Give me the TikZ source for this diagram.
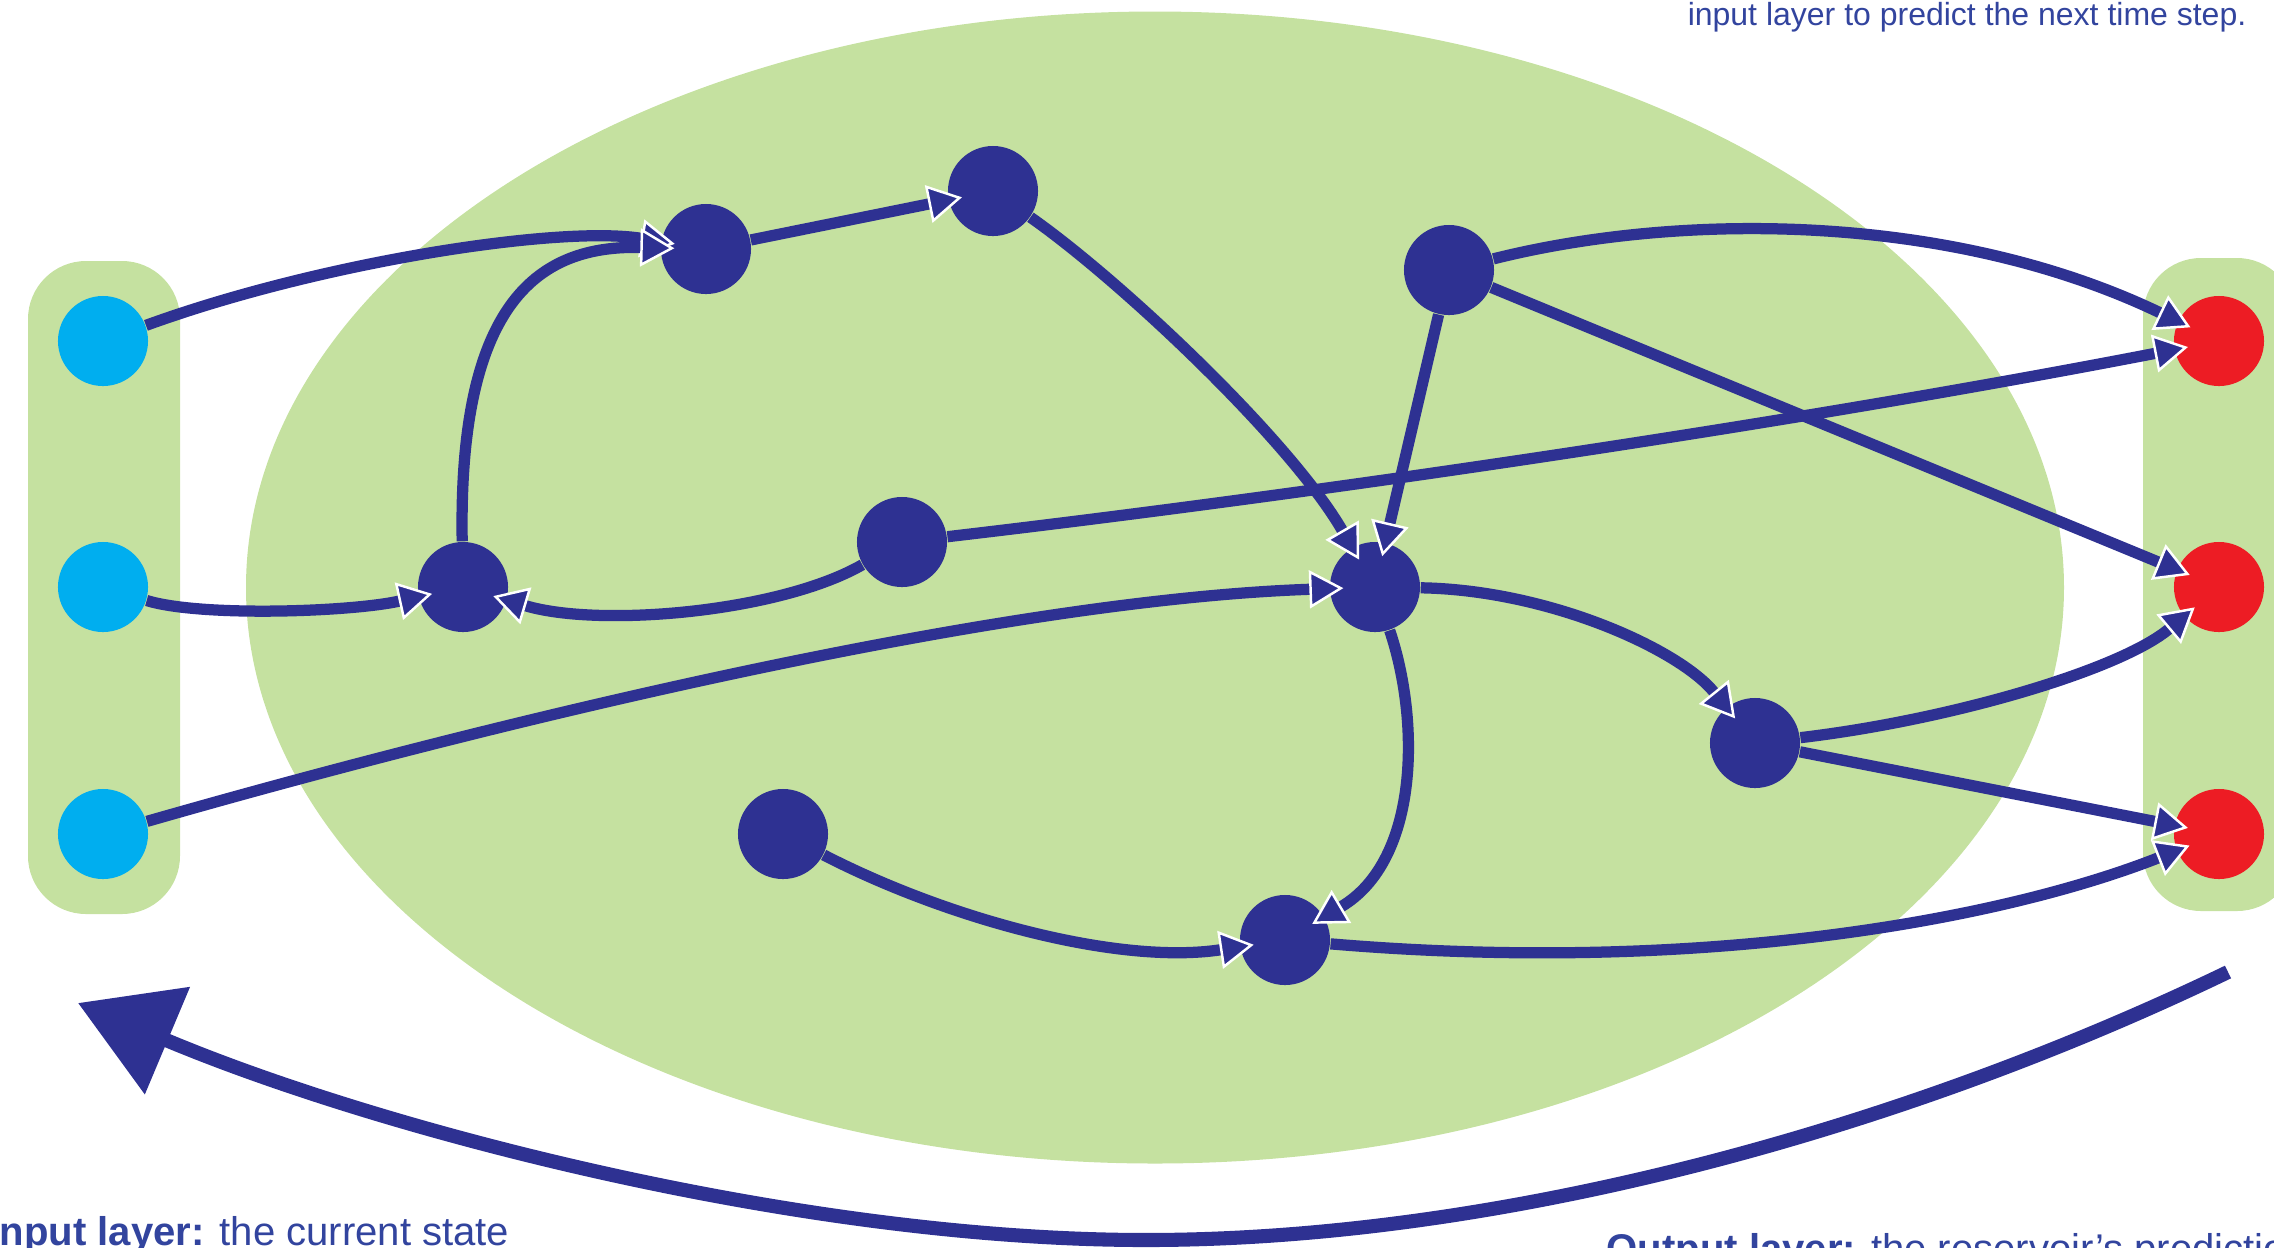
\documentclass[tikz,border=0pt]{standalone}
\usepackage{fontspec}
\setmainfont{Liberation Sans}
\usetikzlibrary{arrows.meta}
\definecolor{dblue}{RGB}{46,49,146}
\definecolor{lgreen}{RGB}{197,225,160}
\definecolor{icyan}{RGB}{0,174,239}
\definecolor{ored}{RGB}{237,28,36}
\definecolor{tblue}{RGB}{50,68,158}
\begin{document}
\begin{tikzpicture}[x=0.01cm,y=-0.01cm,
  neuron/.style={circle, inner sep=0pt, minimum size=0.9cm},
  res/.style={neuron, fill=dblue},
  inp/.style={neuron, fill=icyan},
  outp/.style={neuron, fill=ored},
  link/.style={draw=dblue, line width=3.2pt,
    -{Triangle[length=0.34cm,width=0.38cm,color=white,fill=dblue,line width=0.7pt]},
    shorten >=-4pt},
  feedback/.style={draw=dblue, line width=4pt, -{Triangle[length=0.97cm,width=1.13cm]}},
  lbl/.style={inner sep=0pt, text=tblue},
]
\useasboundingbox (0,0) rectangle (2274,1247);
\clip (0,0) rectangle (2274,1247);

% background shapes
\fill[lgreen] (1155,587.5) ellipse [x radius=909, y radius=576];
\fill[lgreen, rounded corners=0.58cm] (28,261) rectangle (180,914);
\fill[lgreen, rounded corners=0.58cm] (2143,258) rectangle (2295,911);

% input nodes
\node[inp] (In1) at (103,341) {};
\node[inp] (In2) at (103,587) {};
\node[inp] (In3) at (103,834) {};
% output nodes
\node[outp] (Out1) at (2219,341) {};
\node[outp] (Out2) at (2219,587) {};
\node[outp] (Out3) at (2219,834) {};
% reservoir nodes
\node[res] (R1) at (706,249) {};
\node[res] (R2) at (993,191) {};
\node[res] (R3) at (1449,270) {};
\node[res] (R4) at (463,587) {};
\node[res] (R5) at (902,542) {};
\node[res] (R6) at (1375,587) {};
\node[res] (R7) at (1755,743) {};
\node[res] (R8) at (783,834) {};
\node[res] (R9) at (1285,940) {};

% connections
\draw[link] (In1) .. controls (320,262) and (560,225) .. (R1);
\draw[link] (R4) .. controls (458,300) and (540,245) .. (R1);
\draw[link] (R1) -- (R2);
\draw[link] (R2) .. controls (1120,280) and (1290,440) .. (R6);
\draw[link] (R3) .. controls (1680,212) and (1950,212) .. (Out1);
\draw[link] (R3) -- (Out2);
\draw[link] (R3) -- (R6);
\draw[link] (R5) .. controls (1330,492) and (1800,422) .. (Out1);
\draw[link] (R5) .. controls (780,612) and (600,628) .. (R4);
\draw[link] (In2) .. controls (200,617) and (350,612) .. (R4);
\draw[link] (In3) .. controls (500,720) and (1000,600) .. (R6);
\draw[link] (R6) .. controls (1550,590) and (1680,650) .. (R7);
\draw[link] (R6) .. controls (1420,720) and (1420,860) .. (R9);
\draw[link] (R7) .. controls (1950,720) and (2120,670) .. (Out2);
\draw[link] (R7) -- (Out3);
\draw[link] (R8) .. controls (950,920) and (1120,965) .. (R9);
\draw[link] (R9) .. controls (1700,975) and (2000,920) .. (Out3);

% feedback arrow
\coordinate (fbA) at (2228,972);
\coordinate (fbB) at (1146,1240);
\coordinate (fbC) at (78,1003);
\draw[feedback] (fbA) .. controls (1900,1130) and (1500,1240) .. (fbB)
  .. controls (800,1240) and (380,1130) .. (fbC);

% texts
\node[lbl, anchor=base east, font=\fontsize{9.1pt}{11pt}\selectfont] (note) at (2247,25)
  {input layer to predict the next time step.};
\node[lbl, anchor=base west, font=\fontsize{11.4pt}{13pt}\selectfont] (inlab) at (-12,1245)
  {\textbf{Input layer:} the current state};
\node[lbl, anchor=base west, font=\fontsize{11.4pt}{13pt}\selectfont] (outlab) at (1606,1262)
  {\textbf{Output layer:} the reservoir’s prediction};
\end{tikzpicture}
\end{document}
